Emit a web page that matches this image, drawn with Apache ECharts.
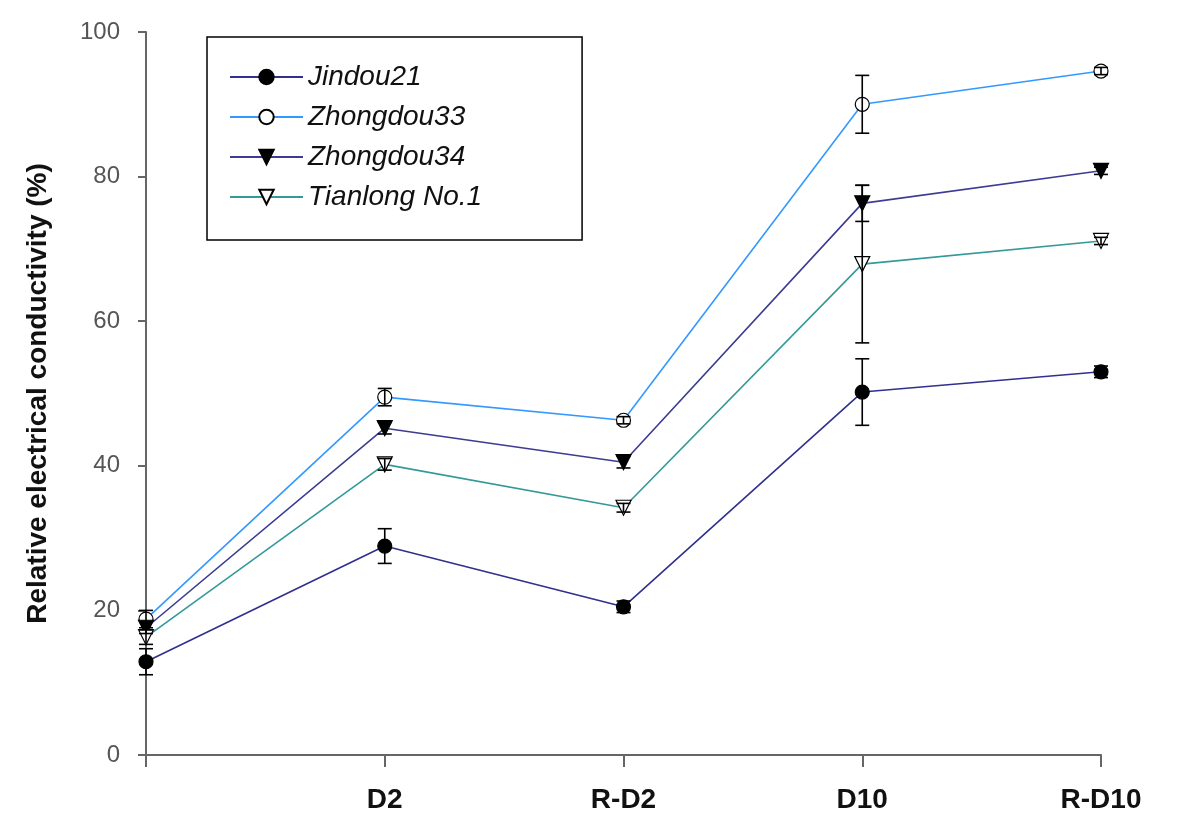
<!DOCTYPE html>
<html>
<head>
<meta charset="utf-8">
<script src="https://cdn.jsdelivr.net/npm/echarts@6/dist/echarts.min.js"></script>
<style>html,body{margin:0;padding:0;background:#fff;}#c{width:1200px;height:835px;}</style>
</head>
<body>
<div id="c"></div>
<script>
const categories = ['', 'D2', 'R-D2', 'D10', 'R-D10'];
const jindou21 = [12.9, 28.9, 20.5, 50.2, 53.0];
const jindou21Err = [1.8, 2.4, 0.8, 4.6, 0.8];
const zhongdou33 = [18.8, 49.5, 46.3, 90.0, 94.6];
const zhongdou33Err = [1.2, 1.2, 0.5, 4.0, 0.5];
const zhongdou34 = [17.6, 45.2, 40.5, 76.3, 80.8];
const zhongdou34Err = [0.8, 0.8, 0.8, 2.5, 0.5];
const tianlong = [16.3, 40.2, 34.2, 67.9, 71.1];
const tianlongErr = [1.0, 0.8, 0.6, 10.9, 0.5];
const yTicks = [0, 20, 40, 60, 80, 100];

const FONT = '"Liberation Sans", Arial, sans-serif';
const downTri = 'path://M0,0 L10,0 L5,10 Z';

function errSeries(vals, errs) {
  return {
    type: 'custom',
    z: 5,
    silent: true,
    data: vals.map((v, i) => [i, v, errs[i]]),
    renderItem: function (params, api) {
      const x = api.value(0), v = api.value(1), e = api.value(2);
      const t = api.coord([x, v + e]);
      const b = api.coord([x, v - e]);
      const hw = 7;
      const st = { stroke: '#000', lineWidth: 1.6 };
      return {
        type: 'group',
        children: [
          { type: 'line', shape: { x1: t[0], y1: t[1], x2: b[0], y2: b[1] }, style: st },
          { type: 'line', shape: { x1: t[0] - hw, y1: t[1], x2: t[0] + hw, y2: t[1] }, style: st },
          { type: 'line', shape: { x1: b[0] - hw, y1: b[1], x2: b[0] + hw, y2: b[1] }, style: st }
        ]
      };
    }
  };
}

function lineSeries(name, vals, color, symbol, fill, size) {
  return {
    name: name,
    type: 'line',
    data: vals,
    z: 3,
    symbol: symbol,
    symbolSize: size,
    showAllSymbol: true,
    lineStyle: { color: color, width: 1.6 },
    itemStyle: { color: fill, borderColor: '#000', borderWidth: 1.2 },
    emphasis: { disabled: true }
  };
}

const chart = echarts.init(document.getElementById('c'));
chart.setOption({
  animation: false,
  backgroundColor: '#fff',
  grid: { left: 146, right: 99, top: 32, bottom: 80, containLabel: false },
  legend: {
    orient: 'vertical',
    left: 207,
    top: 37,
    padding: [26, 100, 29, 22],
    itemWidth: 73,
    itemHeight: 18,
    itemGap: 12,
    borderColor: '#000',
    borderWidth: 1.5,
    textStyle: { fontFamily: FONT, fontStyle: 'italic', fontSize: 28, color: '#111' },
    data: ['Jindou21', 'Zhongdou33', 'Zhongdou34', 'Tianlong No.1']
  },
  xAxis: {
    type: 'category',
    data: categories,
    boundaryGap: false,
    axisLine: { lineStyle: { color: '#666', width: 2 } },
    axisTick: { show: true, length: 12, alignWithLabel: true, lineStyle: { color: '#666', width: 2 } },
    axisLabel: { margin: 31, fontFamily: FONT, fontWeight: 'bold', fontSize: 28, color: '#111', interval: 0 },
    splitLine: { show: false }
  },
  yAxis: {
    type: 'value',
    min: 0,
    max: 100,
    interval: 20,
    name: 'Relative electrical conductivity (%)',
    nameLocation: 'middle',
    nameGap: 94,
    nameTextStyle: { fontFamily: FONT, fontWeight: 'bold', fontSize: 28, color: '#111' },
    axisLine: { show: true, lineStyle: { color: '#666', width: 2 } },
    axisTick: { show: true, length: 8, lineStyle: { color: '#666', width: 2 } },
    axisLabel: {
      margin: 26, fontFamily: FONT, fontSize: 24, color: '#555',
      formatter: function (v) { return yTicks.indexOf(v) >= 0 ? String(v) : ''; }
    },
    splitLine: { show: false }
  },
  series: [
    lineSeries('Jindou21', jindou21, '#30308f', 'circle', '#000', 14),
    lineSeries('Zhongdou33', zhongdou33, '#3399ff', 'circle', '#fff', 14),
    lineSeries('Zhongdou34', zhongdou34, '#3c3c92', downTri, '#000', 15),
    lineSeries('Tianlong No.1', tianlong, '#339999', downTri, '#fff', 15),
    errSeries(jindou21, jindou21Err),
    errSeries(zhongdou33, zhongdou33Err),
    errSeries(zhongdou34, zhongdou34Err),
    errSeries(tianlong, tianlongErr)
  ]
});
</script>
</body>
</html>
